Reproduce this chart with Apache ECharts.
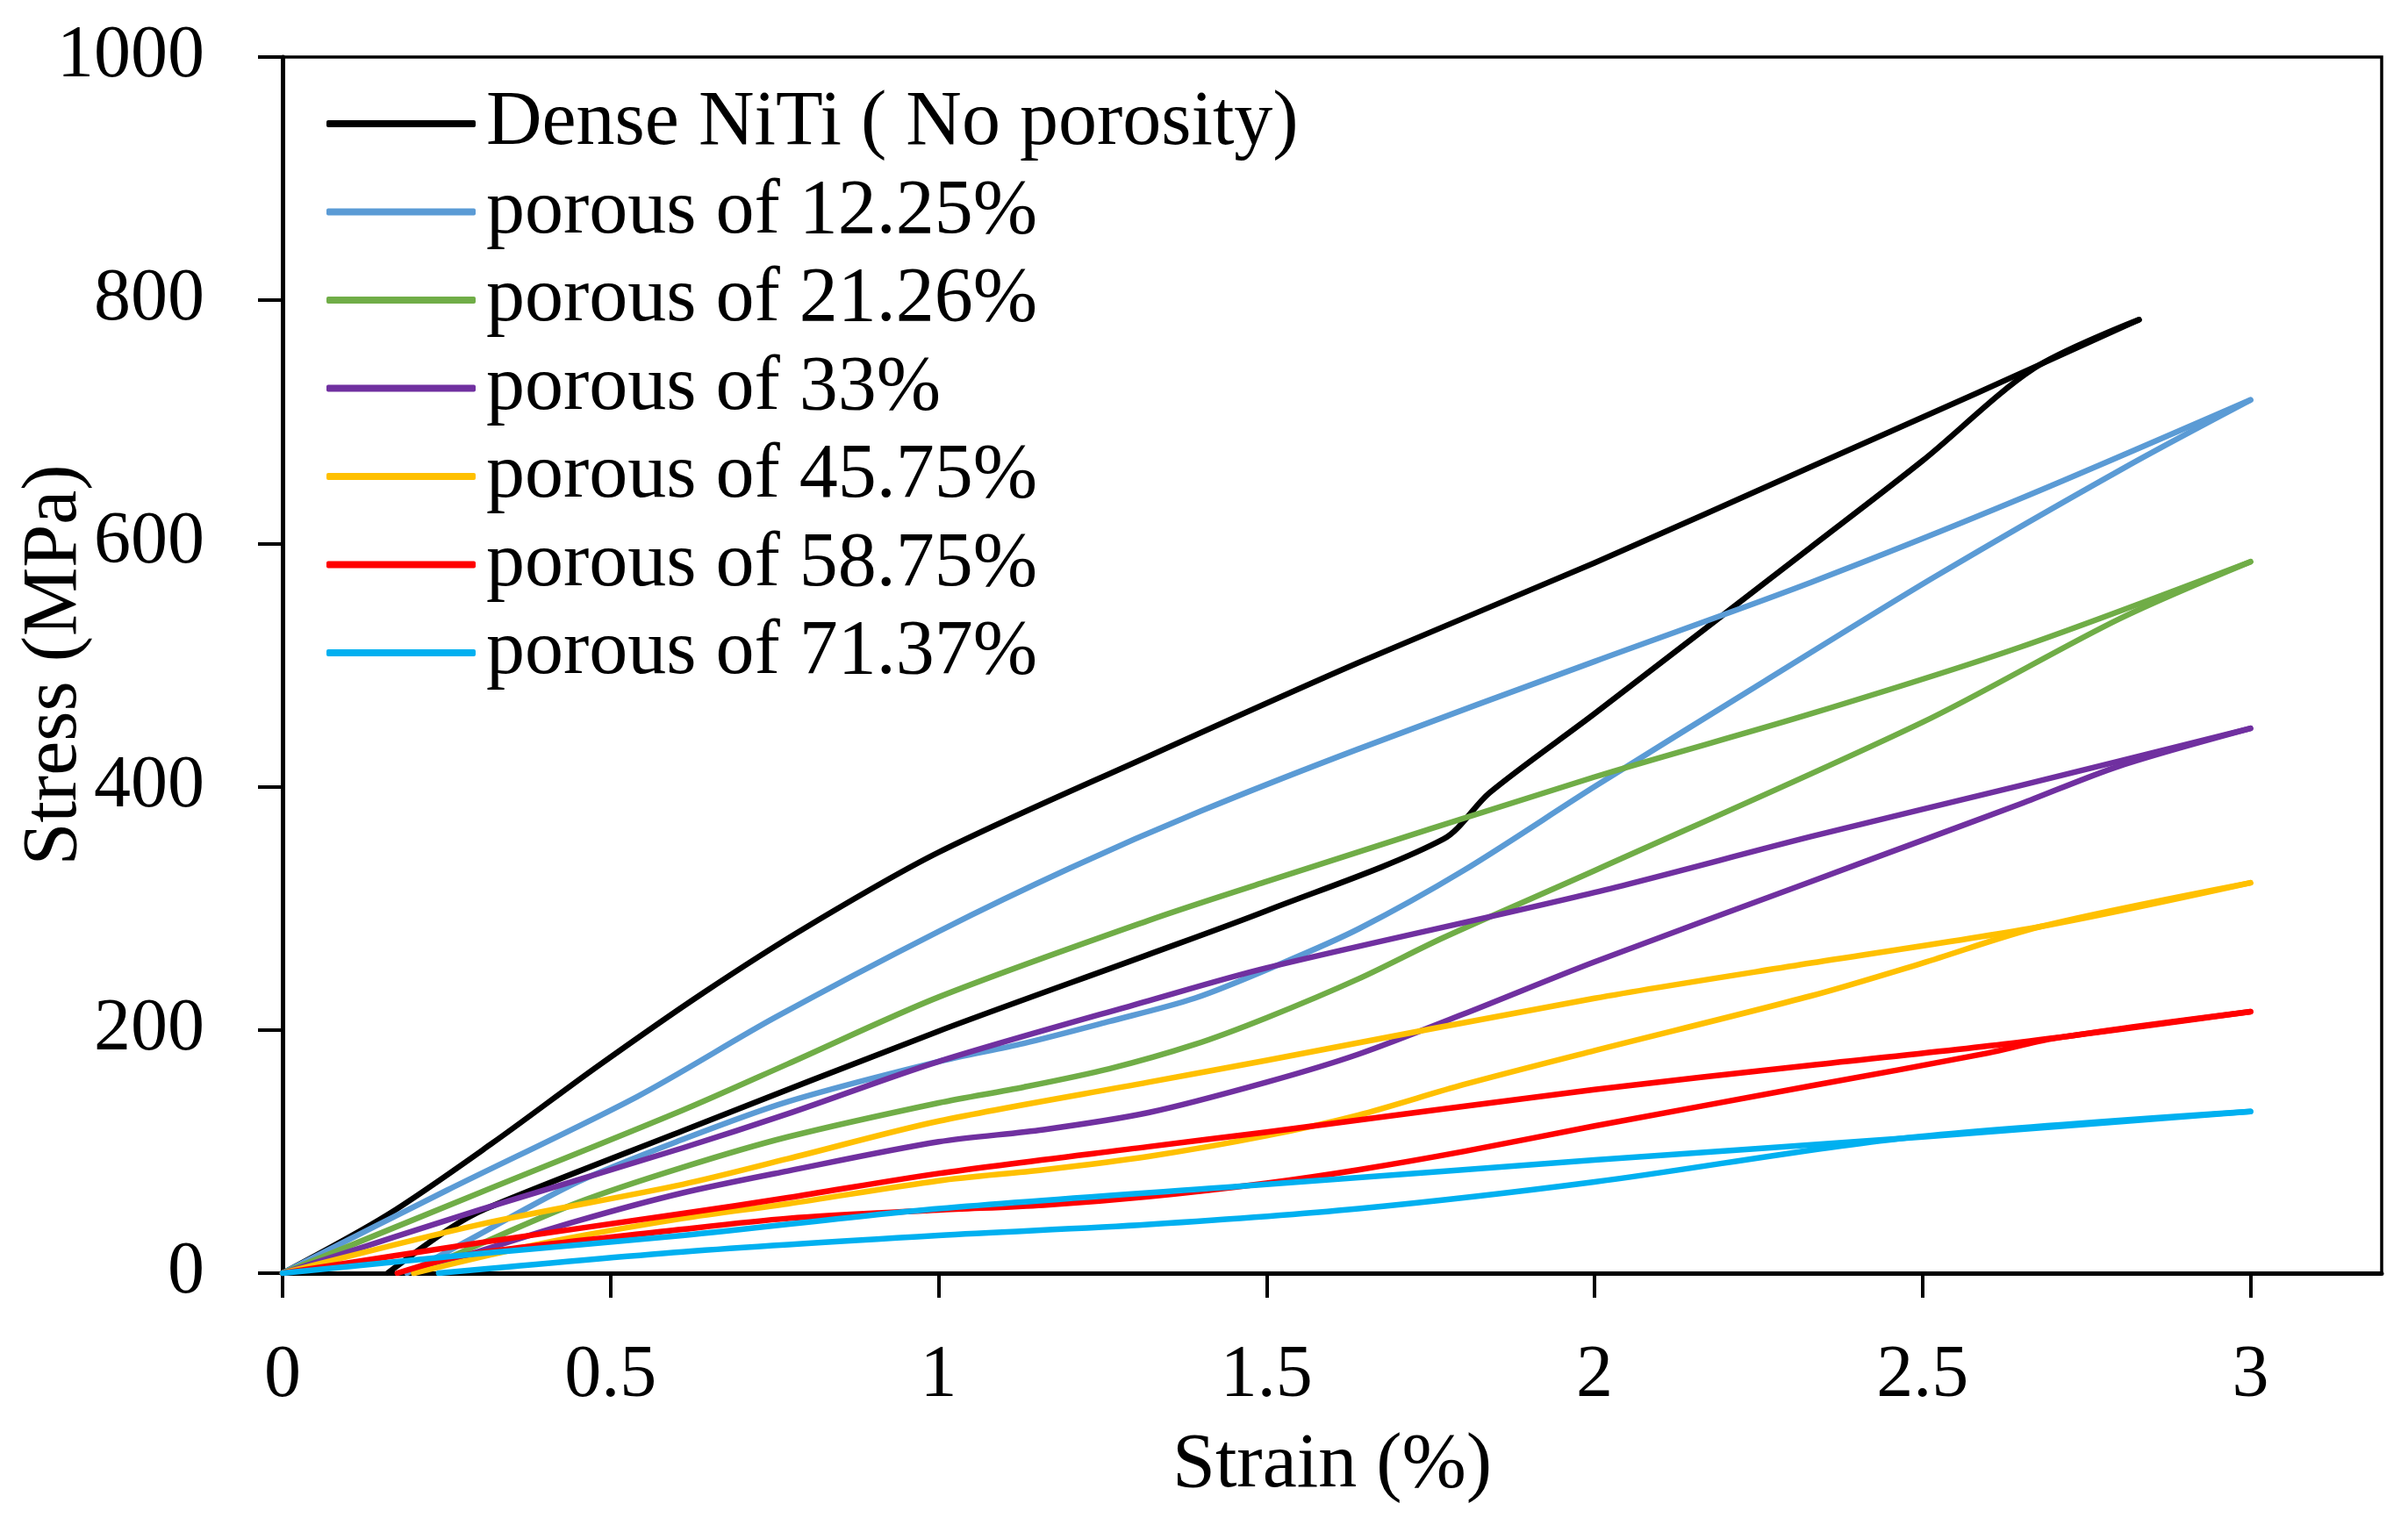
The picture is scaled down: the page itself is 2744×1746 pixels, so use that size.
<!DOCTYPE html>
<html>
<head>
<meta charset="utf-8">
<script src="https://cdn.jsdelivr.net/npm/echarts@6/dist/echarts.min.js"></script>
<style>
html,body{margin:0;padding:0;background:#ffffff;}
#chart{width:2744px;height:1746px;}
</style>
</head>
<body>
<div id="chart"></div>
<script>
// ---- tick labels ----
const xTicks = [0, 0.5, 1, 1.5, 2, 2.5, 3];
const yTicks = [0, 200, 400, 600, 800, 1000];

// ---- legend names and colours ----
const seriesNames = [
  'Dense NiTi ( No porosity)',
  'porous of 12.25%',
  'porous of 21.26%',
  'porous of 33%',
  'porous of 45.75%',
  'porous of 58.75%',
  'porous of 71.37%'
];
const seriesColors = ['#000000', '#5B9BD5', '#70AD47', '#7030A0', '#FFC000', '#FF0000', '#00B0F0'];

// ---- data: [strain %, stress MPa], loading branch then unloading branch ----
const denseLoad = [[0,0],[0.16,48],[0.32,107],[0.48,170],[0.64,230],[0.8,285],[1.0,346],[1.32,425],[1.64,502],[2.0,584],[2.33,663],[2.58,723],[2.83,784]];
const denseUnload = [[2.83,784],[2.67,744],[2.5,668],[2.33,597],[2.0,460],[1.84,395],[1.77,357],[1.5,298],[1.32,262],[1.0,199],[0.61,117],[0.31,53],[0.25,35],[0.16,0]];

const p1225Load = [[0,0],[0.25,68],[0.54,145],[0.75,210],[1.0,281],[1.2,333],[1.4,380],[1.64,431],[2.0,503],[2.33,568],[2.65,637],[3.0,718]];
const p1225Unload = [[3.0,718],[2.81,663],[2.52,573],[2.26,487],[2.0,400],[1.8,331],[1.64,283],[1.52,254],[1.39,226],[1.26,207],[1.13,189],[1.0,174],[0.77,141],[0.61,110],[0.45,75],[0.28,26],[0.19,0]];

const p2126Load = [[0,0],[0.3,66],[0.61,134],[0.77,172],[1.0,227],[1.32,290],[1.5,322],[2.0,408],[2.33,460],[2.65,515],[3.0,585]];
const p2126Unload = [[3.0,585],[2.8,538],[2.5,453],[2.0,331],[1.77,276],[1.64,242],[1.5,210],[1.39,188],[1.26,168],[1.13,153],[1.0,140],[0.77,112],[0.61,87],[0.45,58],[0.28,19],[0.2,0]];

const p33Load = [[0,0],[0.3,52],[0.61,103],[0.77,131],[1.0,174],[1.32,224],[1.5,251],[2.0,313],[2.33,359],[2.65,401],[3.0,448]];
const p33Unload = [[3.0,448],[2.8,417],[2.65,386],[2.5,356],[2.33,322],[2.0,256],[1.8,213],[1.64,180],[1.5,157],[1.32,132],[1.16,118],[1.0,108],[0.77,84],[0.61,66],[0.45,43],[0.3,18],[0.2,0]];

const p4575Load = [[0,0],[0.3,40],[0.61,73],[0.77,94],[1.0,125],[1.32,157],[1.5,175],[2.0,226],[2.33,255],[2.68,285],[3.0,321]];
const p4575Unload = [[3.0,321],[2.68,285],[2.5,255],[2.33,228],[2.0,183],[1.8,155],[1.64,130],[1.5,113],[1.32,96],[1.16,85],[1.0,76],[0.77,57],[0.61,45],[0.4,25],[0.2,0]];

const p5875Load = [[0,0],[0.3,25],[0.61,49],[0.77,62],[1.0,82],[1.32,104],[1.5,116],[2.0,151],[2.33,171],[2.65,190],[3.0,215]];
const p5875Unload = [[3.0,215],[2.7,193],[2.6,181],[2.33,154],[2.0,121],[1.8,100],[1.64,85],[1.5,74],[1.32,63],[1.16,56],[1.0,52],[0.77,45],[0.61,36],[0.28,15],[0.175,0]];

const p7137Load = [[0,0],[0.3,16],[0.61,31],[1.0,53],[1.5,73],[2.0,93],[2.5,112],[3.0,133]];
const p7137Unload = [[3.0,133],[2.47,111],[2.0,75],[1.64,53],[1.32,40],[1.0,31],[0.61,17.5],[0.238,0]];

const branches = [
  [denseLoad, denseUnload],
  [p1225Load, p1225Unload],
  [p2126Load, p2126Unload],
  [p33Load, p33Unload],
  [p4575Load, p4575Unload],
  [p5875Load, p5875Unload],
  [p7137Load, p7137Unload]
];

const FONT = "'Liberation Serif', 'Times New Roman', serif";
const FS_TICK = 84;
const FS_TEXT = 88;

const series = [];
branches.forEach((pair, i) => {
  pair.forEach((data) => {
    series.push({
      type: 'line',
      name: seriesNames[i],
      data: data,
      smooth: 0.3,
      symbol: 'none',
      showSymbol: false,
      clip: true,
      color: seriesColors[i],
      itemStyle: { color: seriesColors[i] },
      lineStyle: { color: seriesColors[i], width: 6.5, cap: 'round', join: 'round' },
      emphasis: { disabled: true },
      animation: false
    });
  });
});

const chart = echarts.init(document.getElementById('chart'), null, { renderer: 'canvas' });
chart.setOption({
  backgroundColor: '#ffffff',
  animation: false,
  grid: {
    left: 322, right: 30, top: 65, bottom: 295,
    containLabel: false,
    outerBoundsMode: 'none',
    show: true, borderColor: '#000000', borderWidth: 3.5, backgroundColor: 'transparent'
  },
  legend: {
    orient: 'vertical',
    left: 367,
    top: 92,
    icon: 'roundRect',
    itemWidth: 170,
    itemHeight: 8,
    itemGap: 12.5,
    data: seriesNames,
    textStyle: { fontSize: FS_TEXT, fontFamily: FONT, color: '#000', lineHeight: 84, padding: [0, 0, 0, 7] }
  },
  xAxis: {
    type: 'value',
    min: 0, max: 3.2, interval: 0.5,
    axisLine: { show: true, onZero: false, lineStyle: { color: '#000', width: 5 } },
    axisTick: { show: true, inside: false, length: 28, customValues: xTicks, lineStyle: { color: '#000', width: 4 } },
    axisLabel: {
      customValues: xTicks, margin: 76, fontSize: FS_TICK, fontFamily: FONT, color: '#000',
      formatter: (v) => (xTicks.indexOf(v) >= 0 ? String(v) : '')
    },
    splitLine: { show: false },
    name: 'Strain (%)',
    nameLocation: 'middle',
    nameGap: 176,
    nameMoveOverlap: false,
    nameTextStyle: { fontSize: FS_TEXT, fontFamily: FONT, color: '#000' }
  },
  yAxis: {
    type: 'value',
    min: 0, max: 1000, interval: 200,
    axisLine: { show: true, onZero: false, lineStyle: { color: '#000', width: 5 } },
    axisTick: { show: true, inside: false, length: 28, lineStyle: { color: '#000', width: 4 } },
    axisLabel: {
      margin: 89, fontSize: FS_TICK, fontFamily: FONT, color: '#000',
      formatter: (v) => String(v)
    },
    splitLine: { show: false },
    name: 'Stress (MPa)',
    nameLocation: 'middle',
    nameGap: 215,
    nameMoveOverlap: false,
    nameTextStyle: { fontSize: FS_TEXT, fontFamily: FONT, color: '#000' }
  },
  series: series
});
</script>
</body>
</html>
